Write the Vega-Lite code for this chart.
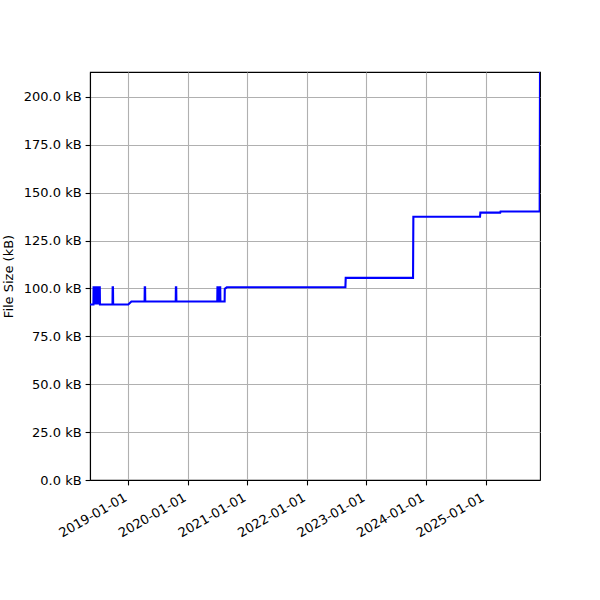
{
  "$schema": "https://vega.github.io/schema/vega-lite/v6.json",
  "width": 450,
  "height": 408,
  "autosize": {"type": "none"},
  "padding": {"left": 90, "top": 72, "right": 60, "bottom": 120},
  "background": "white",
  "config": {
    "font": "DejaVu Sans",
    "view": {"stroke": "black", "strokeWidth": 1.1},
    "axis": {
      "labelFont": "DejaVu Sans",
      "labelFontSize": 13,
      "labelColor": "black",
      "titleFont": "DejaVu Sans",
      "titleFontSize": 13,
      "titleFontWeight": "normal",
      "titleColor": "black",
      "domainColor": "black",
      "domainWidth": 1.1,
      "tickColor": "black",
      "tickWidth": 1.1,
      "tickSize": 4.9,
      "labelPadding": 4,
      "gridColor": "#b0b0b0",
      "gridWidth": 1.1,
      "gridOpacity": 1
    }
  },
  "data": {
    "values": [
      {"date": "2018-05-11", "size": 91.6},
      {"date": "2018-06-01", "size": 91.6},
      {"date": "2018-06-02", "size": 100.6},
      {"date": "2018-06-05", "size": 100.6},
      {"date": "2018-06-06", "size": 91.6},
      {"date": "2018-06-07", "size": 100.6},
      {"date": "2018-06-10", "size": 100.6},
      {"date": "2018-06-11", "size": 91.6},
      {"date": "2018-06-12", "size": 100.6},
      {"date": "2018-06-15", "size": 100.6},
      {"date": "2018-06-16", "size": 91.6},
      {"date": "2018-06-17", "size": 100.6},
      {"date": "2018-06-20", "size": 100.6},
      {"date": "2018-06-21", "size": 91.6},
      {"date": "2018-06-22", "size": 100.6},
      {"date": "2018-06-25", "size": 91.6},
      {"date": "2018-06-26", "size": 100.6},
      {"date": "2018-06-30", "size": 100.6},
      {"date": "2018-07-01", "size": 91.6},
      {"date": "2018-07-02", "size": 100.6},
      {"date": "2018-07-10", "size": 100.6},
      {"date": "2018-07-11", "size": 91.6},
      {"date": "2018-09-26", "size": 91.6},
      {"date": "2018-09-27", "size": 100.6},
      {"date": "2018-09-29", "size": 100.6},
      {"date": "2018-09-30", "size": 91.6},
      {"date": "2019-01-01", "size": 91.6},
      {"date": "2019-01-20", "size": 93.2},
      {"date": "2019-04-11", "size": 93.2},
      {"date": "2019-04-12", "size": 100.6},
      {"date": "2019-04-14", "size": 100.6},
      {"date": "2019-04-15", "size": 93.2},
      {"date": "2019-10-19", "size": 93.2},
      {"date": "2019-10-20", "size": 100.6},
      {"date": "2019-10-22", "size": 100.6},
      {"date": "2019-10-23", "size": 93.2},
      {"date": "2020-06-30", "size": 93.2},
      {"date": "2020-07-01", "size": 100.6},
      {"date": "2020-07-03", "size": 100.6},
      {"date": "2020-07-04", "size": 93.2},
      {"date": "2020-07-15", "size": 93.2},
      {"date": "2020-07-16", "size": 100.6},
      {"date": "2020-07-18", "size": 100.6},
      {"date": "2020-07-19", "size": 93.2},
      {"date": "2020-08-14", "size": 93.2},
      {"date": "2020-08-15", "size": 99.8},
      {"date": "2020-08-27", "size": 100.6},
      {"date": "2022-08-25", "size": 100.6},
      {"date": "2022-08-27", "size": 105.5},
      {"date": "2023-10-14", "size": 105.5},
      {"date": "2023-10-16", "size": 137.4},
      {"date": "2024-11-28", "size": 137.4},
      {"date": "2024-11-30", "size": 139.6},
      {"date": "2025-04-01", "size": 139.6},
      {"date": "2025-04-03", "size": 140.2},
      {"date": "2025-11-29", "size": 140.2},
      {"date": "2025-12-01", "size": 213}
    ]
  },
  "mark": {"type": "line", "color": "#0000ff", "strokeWidth": 2.1, "clip": true},
  "encoding": {
    "x": {
      "field": "date",
      "type": "temporal",
      "scale": {
        "type": "utc",
        "domain": [
          {"year": 2018, "month": 5, "date": 11, "utc": true},
          {"year": 2025, "month": 12, "date": 1, "utc": true}
        ],
        "nice": false
      },
      "axis": {
        "title": null,
        "values": [
          {"year": 2019, "month": 1, "date": 1, "utc": true},
          {"year": 2020, "month": 1, "date": 1, "utc": true},
          {"year": 2021, "month": 1, "date": 1, "utc": true},
          {"year": 2022, "month": 1, "date": 1, "utc": true},
          {"year": 2023, "month": 1, "date": 1, "utc": true},
          {"year": 2024, "month": 1, "date": 1, "utc": true},
          {"year": 2025, "month": 1, "date": 1, "utc": true}
        ],
        "format": "%Y-%m-%d",
        "labelAngle": -30,
        "labelAlign": "right",
        "labelBaseline": "top",
        "labelPadding": 6,
        "labelOffset": -6,
        "grid": true,
        "labelFlush": false,
        "labelOverlap": false
      }
    },
    "y": {
      "field": "size",
      "type": "quantitative",
      "scale": {"domain": [0, 213], "nice": false, "zero": true},
      "axis": {
        "title": "File Size (kB)",
        "values": [0, 25, 50, 75, 100, 125, 150, 175, 200],
        "labelExpr": "format(datum.value, '.1f') + ' kB'",
        "grid": true,
        "titlePadding": 8,
        "labelFlush": false
      }
    }
  }
}
